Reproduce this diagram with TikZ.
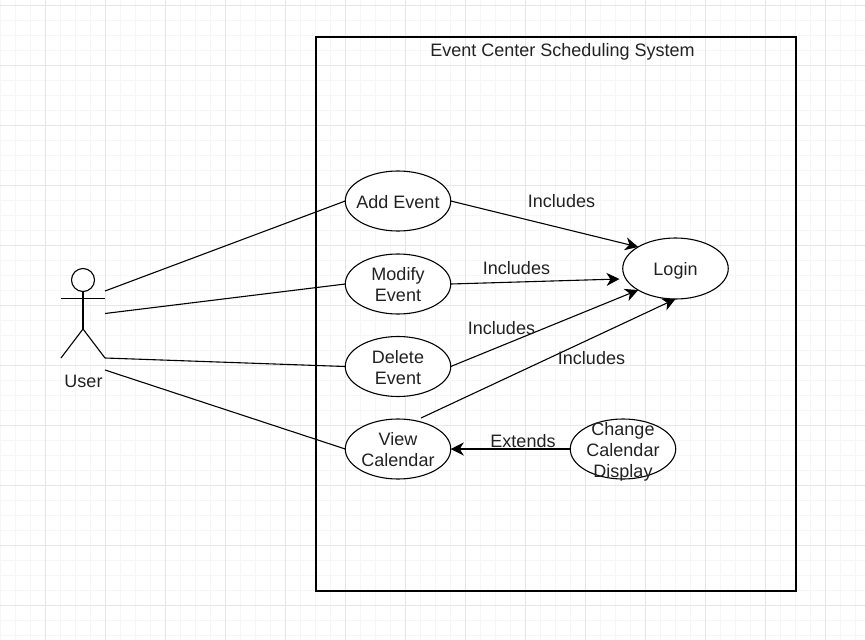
\documentclass[tikz,border=0pt]{standalone}
\usepackage{fontspec}
\setmainfont{Liberation Sans}
\usetikzlibrary{arrows.meta,shapes.geometric}
\definecolor{gridmajor}{HTML}{E6E6E6}
\definecolor{gridminor}{HTML}{F6F6F6}
\definecolor{inktext}{HTML}{222222}
\tikzset{
  usecase/.style={draw=black,line width=1.1pt,fill=white,ellipse,minimum width=105.5pt,minimum height=60pt,inner sep=0pt,outer sep=0pt},
  casetext/.style={text=inktext,align=center,inner sep=0pt,yshift=-1pt,font=\fontsize{18}{21}\selectfont},
  lbl/.style={text=inktext,inner sep=0pt,font=\fontsize{18}{21}\selectfont},
  conn/.style={draw=black,line width=1.1pt},
  arrowconn/.style={conn,-{Stealth[length=13pt,width=13pt,inset=4pt]}},
  actorline/.style={draw=black,line width=1.1pt},
}
\begin{document}
\begin{tikzpicture}[x=1pt,y=-1pt]
\useasboundingbox (0,0) rectangle (865,640);
\fill[white] (0,0) rectangle (865,640);
% minor grid
\foreach \i in {0,...,57} {\draw[gridminor,line width=.8pt] ({\i*15},0) -- ({\i*15},640);}
\foreach \j in {0,...,42} {\draw[gridminor,line width=.8pt] (0,{5+\j*15}) -- (865,{5+\j*15});}
% major grid
\foreach \i in {0,...,13} {\draw[gridmajor,line width=.8pt] ({45+\i*60},0) -- ({45+\i*60},640);}
\foreach \j in {0,...,10} {\draw[gridmajor,line width=.8pt] (0,{5+\j*60}) -- (865,{5+\j*60});}
% system boundary
\node[draw=black,line width=1.1pt,minimum width=480pt,minimum height=554pt,inner sep=0pt,outer sep=0pt] (system) at (556,314) {};
\node[lbl] (title) at (562.5,52) {Event Center Scheduling System};
% actor
\node[draw=black,line width=1.1pt,circle,fill=white,minimum size=23pt,inner sep=0pt,outer sep=0pt] (head) at (83,280) {};
\coordinate (hip) at (83,329);
\coordinate (armL) at (61,298.5);
\coordinate (armR) at (105,298.5);
\coordinate (legL) at (61,358);
\coordinate (legR) at (105,358);
\draw[actorline] (head.south) -- (hip);
\draw[actorline] (armL) -- (armR);
\draw[actorline] (legL) -- (hip) -- (legR);
\node[lbl] (user) at (83.5,381.5) {User};
% use cases
\node[usecase,label={[casetext]center:Add Event}] (add) at (398,201) {};
\node[usecase,label={[casetext]center:Modify\\Event}] (modify) at (398,284) {};
\node[usecase,label={[casetext]center:Delete\\Event}] (delete) at (398,366.5) {};
\node[usecase,label={[casetext]center:View\\Calendar}] (view) at (398,449) {};
\node[usecase,minimum height=61pt,label={[casetext,yshift=-1.5pt]center:Login}] (login) at (675.5,268.5) {};
\node[usecase,label={[casetext,yshift=-1.5pt]center:Change\\Calendar\\Display}] (change) at (623,449) {};
% actor connectors
\coordinate (u1) at (105,291);
\coordinate (u2) at (105,313.5);
\coordinate (u4) at (105,370);
\coordinate (m) at (619.5,279);
\coordinate (v) at (421,418);
\draw[conn] (u1) -- (add.west);
\draw[conn] (u2) -- (modify.west);
\draw[conn] (legR) -- (delete.west);
\draw[conn] (u4) -- (view.west);
% includes / extends
\draw[arrowconn] (add.east) -- (login.150);
\draw[arrowconn] (modify.east) -- (m);
\draw[arrowconn] (delete.east) -- (login.210);
\draw[arrowconn] (v) -- (login.south);
\draw[arrowconn] (change.west) -- (view.east);
\node[lbl] (i1) at (561.5,201) {Includes};
\node[lbl] (i2) at (516.5,268) {Includes};
\node[lbl] (i3) at (501.5,328) {Includes};
\node[lbl] (i4) at (591.5,358) {Includes};
\node[lbl] (e1) at (523,441) {Extends};
\end{tikzpicture}
\end{document}
